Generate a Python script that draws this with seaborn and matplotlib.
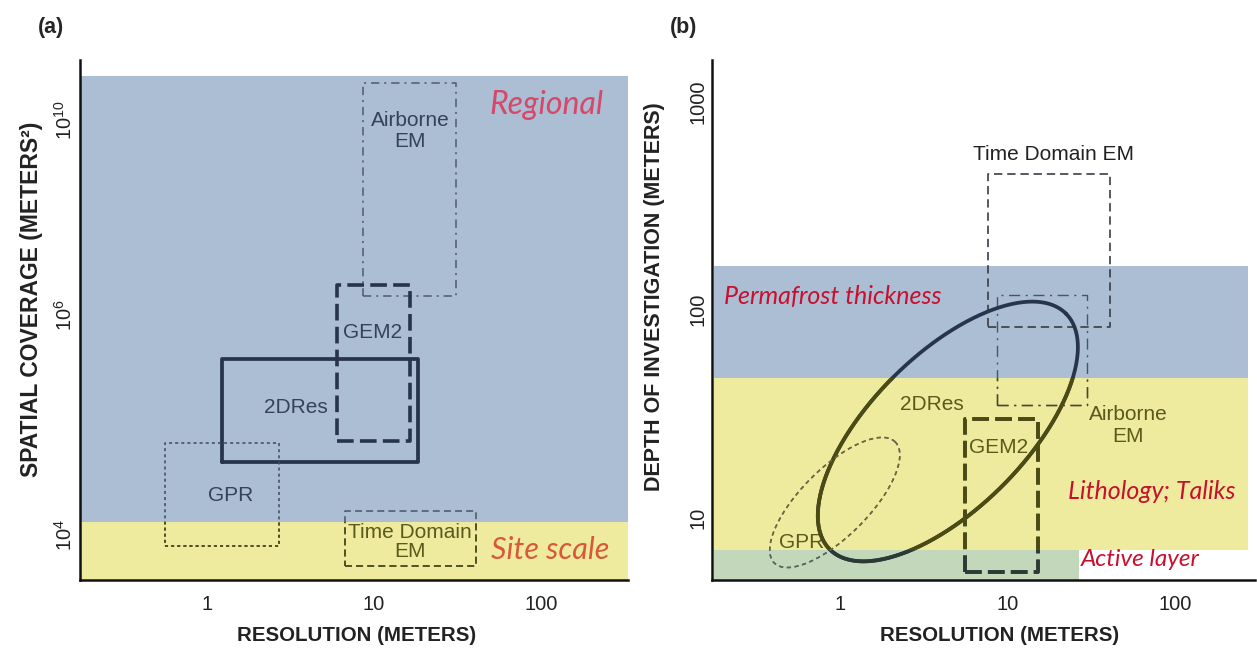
import numpy as np
import pandas as pd
import matplotlib
matplotlib.use("Agg")
import matplotlib.pyplot as plt
from matplotlib.patches import Rectangle
from matplotlib.ticker import NullLocator
import seaborn as sns

# ---------------- data ----------------
# panel (a): resolution (m) vs spatial coverage (m^2)
a_methods = ["Airborne EM", "GEM2", "2DRes", "GPR", "Time Domain EM"]
a_res_min = [8.6, 6.0, 1.23, 0.56, 6.7]
a_res_max = [31, 16.4, 18.3, 2.7, 41]
a_cov_min = [2.5e6, 7.1e4, 4.6e4, 7.9e3, 5.2e3]
a_cov_max = [5.8e10, 4.2e6, 4.0e5, 6.9e4, 1.66e4]

a_bands = ["Regional", "Site scale"]
a_band_lo = [1.3e4, 3.9e3]
a_band_hi = [8e10, 1.3e4]

# panel (b): resolution (m) vs depth of investigation (m)
b_box_methods = ["Time Domain EM", "Airborne EM", "GEM2"]
b_res_min = [7.6, 8.6, 5.6]
b_res_max = [41, 30, 15.1]
b_dep_min = [82, 34.7, 5.45]
b_dep_max = [447, 118, 29.6]

# ellipses, in decades: centre, half major axis vector, half minor axis vector
b_ell_methods = ["2DRes", "GPR"]
b_ell_res = [4.4, 0.93]
b_ell_dep = [25.9, 11.8]
b_ell_major = [(0.705, 0.567), (0.361, 0.291)]
b_ell_minor = [(-0.325, 0.262), (-0.143, 0.115)]

b_bands = ["Permafrost thickness", "Lithology; Taliks", "Active layer"]
b_band_lo = [47, 7.0, 5.0]
b_band_hi = [161, 47, 7.0]
b_band_res_max = [273, 273, 26.7]

x_ticks = [1, 10, 100]
a_yticks = [1e4, 1e6, 1e10]
b_yticks = [10, 100, 1000]

# ---------------- style ----------------
sns.set_theme(style="white")
plt.rcParams["font.family"] = ["Liberation Sans", "DejaVu Sans"]
plt.rcParams["mathtext.fontset"] = "custom"
plt.rcParams["mathtext.rm"] = "Liberation Sans"
plt.rcParams["lines.scale_dashes"] = False

NAVY = "#27344b"
SLATE = "#34435a"
OLIVE = "#4b4b12"
OLIVE_TXT = "#5a5a1c"
DKGREEN = "#2c3a33"
BLUE = "#abbed3"
YELLOW = "#eeeb9e"
GREEN = "#c3d8bb"
ITAL = ["Lato", "DejaVu Sans"]
LBL = 15


def outline(ax, xs, ys, color, lw, ls, overlays=()):
    df = pd.DataFrame({"x": xs, "y": ys})
    sns.lineplot(data=df, x="x", y="y", sort=False, estimator=None, ax=ax,
                 color=color, lw=lw, linestyle=ls, zorder=3)
    for patch, c in overlays:
        sns.lineplot(data=df, x="x", y="y", sort=False, estimator=None, ax=ax,
                     color=c, lw=lw, linestyle=ls, zorder=3.1)
        ax.lines[-1].set_clip_path(patch)


def rect(x0, x1, y0, y1):
    return [x0, x1, x1, x0, x0], [y0, y0, y1, y1, y0]


# piecewise log scale for coverage axis (upper decades are compressed)
def fwd(v):
    L = np.log10(np.maximum(v, 1e-30))
    return np.where(L <= 6, L, 6 + (L - 6) * 0.443)


def inv(u):
    u = np.asarray(u, dtype=float)
    return np.where(u <= 6, 10.0 ** u, 10.0 ** (6 + (u - 6) / 0.443))


fig = plt.figure(figsize=(12.57, 6.49), dpi=100)
axa = fig.add_axes([80 / 1257, 69 / 649, 548 / 1257, 520 / 649])
axb = fig.add_axes([712 / 1257, 69 / 649, 543 / 1257, 520 / 649])

# ---------------- panel (a) ----------------
axa.set_xscale("log")
axa.set_yscale("function", functions=(fwd, inv))
axa.set_xlim(0.174, 331)
axa.set_ylim(3.9e3, 1.7e11)

blue_a = Rectangle((0.174, a_band_lo[0]), 331 - 0.174, a_band_hi[0] - a_band_lo[0],
                   facecolor=BLUE, edgecolor="none", zorder=0)
yel_a = Rectangle((0.174, a_band_lo[1]), 331 - 0.174, a_band_hi[1] - a_band_lo[1],
                  facecolor=YELLOW, edgecolor="none", zorder=0)
axa.add_patch(blue_a)
axa.add_patch(yel_a)

styles_a = {
    "Airborne EM": dict(color="#4d5b72", lw=1.1, ls=(0, (6, 3.5, 1.5, 3.5))),
    "GEM2": dict(color=NAVY, lw=2.6, ls=(0, (12, 4.5))),
    "2DRes": dict(color=NAVY, lw=2.7, ls="-"),
    "GPR": dict(color="#3e4a5c", lw=1.1, ls=(0, (2.2, 2.2))),
    "Time Domain EM": dict(color="#4a5566", lw=1.1, ls=(0, (5, 3))),
}
for m, x0, x1, y0, y1 in zip(a_methods, a_res_min, a_res_max, a_cov_min, a_cov_max):
    xs, ys = rect(x0, x1, y0, y1)
    st = styles_a[m]
    outline(axa, xs, ys, st["color"], st["lw"], st["ls"], overlays=[(yel_a, OLIVE)])

txt = dict(ha="center", va="center", fontsize=LBL)
axa.text(16.4, 5.9e9, "Airborne\nEM", color=SLATE, linespacing=1.15, **txt)
axa.text(9.86, 6.9e5, "GEM2", color=SLATE, **txt)
axa.text(3.41, 1.45e5, "2DRes", color=SLATE, **txt)
axa.text(1.39, 2.3e4, "GPR", color=SLATE, **txt)
axa.text(16.4, 8.7e3, "Time Domain\nEM", color=OLIVE_TXT, linespacing=1.0, **txt)
axa.text(108, 2.0e10, a_bands[0], color="#d6476a", style="italic", family=ITAL,
         ha="center", va="center", fontsize=23)
axa.text(113, 7.3e3, a_bands[1], color="#d9573b", style="italic", family=ITAL,
         ha="center", va="center", fontsize=22)

axa.set_yticks(a_yticks)
axa.set_yticklabels([r"$\mathregular{10^{4}}$", r"$\mathregular{10^{6}}$",
                     r"$\mathregular{10^{10}}$"], rotation=90, va="center")
axa.set_ylabel("SPATIAL COVERAGE (METERS²)", fontsize=16.5, weight="bold", color="#222")
axa.yaxis.set_label_coords(-0.068, 0.54)

# ---------------- panel (b) ----------------
axb.set_xscale("log")
axb.set_yscale("log")
axb.set_xlim(0.172, 300)
axb.set_ylim(5.0, 1585)

band_cols = [BLUE, YELLOW, GREEN]
b_patches = []
for lo, hi, xr, c in zip(b_band_lo, b_band_hi, b_band_res_max, band_cols):
    p = Rectangle((0.176, lo), xr - 0.176, hi - lo, facecolor=c, edgecolor="none", zorder=0)
    axb.add_patch(p)
    b_patches.append(p)
yel_b, green_b = b_patches[1], b_patches[2]

styles_b = {
    "Time Domain EM": dict(color="#3a3d44", lw=1.2, ls=(0, (6, 3.5))),
    "Airborne EM": dict(color="#4a5468", lw=1.0, ls=(0, (8, 4, 1.5, 4))),
    "GEM2": dict(color="#2f3a40", lw=2.6, ls=(0, (12, 4.5))),
}
for m, x0, x1, y0, y1 in zip(b_box_methods, b_res_min, b_res_max, b_dep_min, b_dep_max):
    xs, ys = rect(x0, x1, y0, y1)
    st = styles_b[m]
    outline(axb, xs, ys, st["color"], st["lw"], st["ls"],
            overlays=[(yel_b, OLIVE), (green_b, DKGREEN)])

t = np.linspace(0, 2 * np.pi, 361)
ell_styles = {"2DRes": dict(color=NAVY, lw=2.7, ls="-"),
              "GPR": dict(color="#555a60", lw=1.1, ls=(0, (3, 2.6)))}
for m, cx, cy, M, n in zip(b_ell_methods, b_ell_res, b_ell_dep, b_ell_major, b_ell_minor):
    lx = np.log10(cx) + M[0] * np.cos(t) + n[0] * np.sin(t)
    ly = np.log10(cy) + M[1] * np.cos(t) + n[1] * np.sin(t)
    st = ell_styles[m]
    gcol = OLIVE if m == "2DRes" else "#6b6b3a"
    outline(axb, 10 ** lx, 10 ** ly, st["color"], st["lw"], st["ls"],
            overlays=[(yel_b, gcol), (green_b, DKGREEN if m == "2DRes" else "#5c655c")])

axb.text(18.7, 556, "Time Domain EM", color="#222", **txt)
axb.text(52.4, 27.7, "Airborne\nEM", color=OLIVE_TXT, linespacing=1.15, **txt)
axb.text(8.78, 21.7, "GEM2", color=OLIVE_TXT, **txt)
axb.text(3.54, 34.9, "2DRes", color=OLIVE_TXT, **txt)
axb.text(0.593, 7.59, "GPR", color=OLIVE_TXT, **txt)
red = "#c8102e"
axb.text(0.203, 115.5, b_bands[0], color=red, style="italic", family=ITAL,
         ha="left", va="center", fontsize=18)
axb.text(72.9, 13.3, b_bands[1], color=red, style="italic", family=ITAL,
         ha="center", va="center", fontsize=18)
axb.text(61.8, 6.28, b_bands[2], color=red, style="italic", family=ITAL,
         ha="center", va="center", fontsize=17.5)

axb.set_yticks(b_yticks)
axb.set_yticklabels([str(v) for v in b_yticks], rotation=90, va="center")
axb.set_ylabel("DEPTH OF INVESTIGATION (METERS)", fontsize=15.5, weight="bold", color="#222")
axb.yaxis.set_label_coords(-0.087, 0.544)

# ---------------- shared cosmetics ----------------
for ax, xl in ((axa, 0.505), (axb, 0.53)):
    ax.set_xticks(x_ticks)
    ax.set_xticklabels([str(v) for v in x_ticks])
    ax.xaxis.set_minor_locator(NullLocator())
    ax.yaxis.set_minor_locator(NullLocator())
    ax.tick_params(axis="x", length=0, labelsize=14.5, pad=11, colors="#222")
    ax.tick_params(axis="y", length=0, labelsize=14.5, pad=3, colors="#222")
    ax.set_xlabel("RESOLUTION (METERS)", fontsize=14.8, weight="bold", color="#222")
    ax.xaxis.set_label_coords(xl, -0.088)
    for s in ("top", "right"):
        ax.spines[s].set_visible(False)
    for s in ("left", "bottom"):
        ax.spines[s].set_linewidth(1.8)
        ax.spines[s].set_color("#111")
    ax.set_facecolor("white")

fig.text(51 / 1257, 1 - 27 / 649, "(a)", ha="center", va="center", fontsize=15.5, weight="bold")
fig.text(684 / 1257, 1 - 27 / 649, "(b)", ha="center", va="center", fontsize=15.5, weight="bold")

fig.savefig("out.png", dpi=100, facecolor="white")
